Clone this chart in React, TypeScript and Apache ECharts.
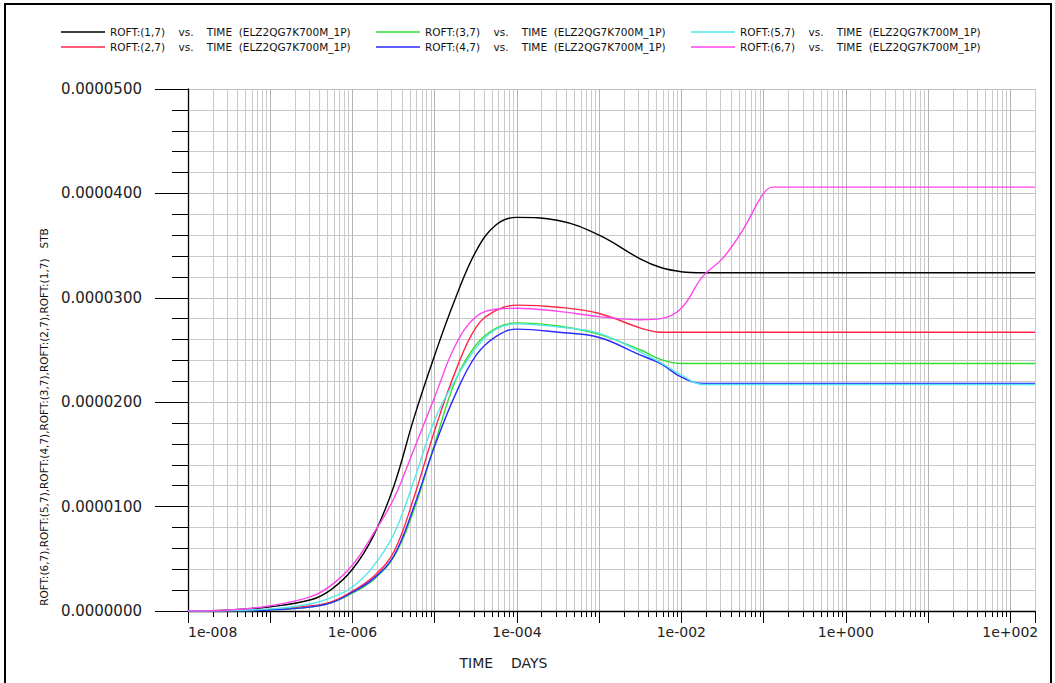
import { useEffect, useRef } from 'react';
import * as echarts from 'echarts';

// ---- data ----
const timeDays = [
  1e-8, 3.2e-8, 1e-7, 3.2e-7, 5.6e-7, 1e-6, 1.8e-6, 3.2e-6, 5.6e-6, 1e-5,
  1.8e-5, 3.2e-5, 5.6e-5, 1e-4, 3.2e-4, 1e-3, 3.2e-3, 5.6e-3, 1e-2, 1.8e-2,
  3.2e-2, 5.6e-2, 0.1, 0.13, 0.32, 1, 10, 100, 200,
];

const roft17 = [
  0, 0.01e-5, 0.04e-5, 0.11e-5, 0.21e-5, 0.40e-5, 0.72e-5, 1.20e-5, 1.85e-5, 2.45e-5,
  3.00e-5, 3.45e-5, 3.70e-5, 3.77e-5, 3.74e-5, 3.60e-5, 3.37e-5, 3.29e-5, 3.25e-5, 3.24e-5,
  3.24e-5, 3.24e-5, 3.24e-5, 3.24e-5, 3.24e-5, 3.24e-5, 3.24e-5, 3.24e-5, 3.24e-5,
];
const roft27 = [
  0, 0.003e-5, 0.015e-5, 0.05e-5, 0.09e-5, 0.19e-5, 0.33e-5, 0.57e-5, 1.09e-5, 1.73e-5,
  2.30e-5, 2.72e-5, 2.88e-5, 2.93e-5, 2.91e-5, 2.85e-5, 2.71e-5, 2.67e-5, 2.67e-5, 2.67e-5,
  2.67e-5, 2.67e-5, 2.67e-5, 2.67e-5, 2.67e-5, 2.67e-5, 2.67e-5, 2.67e-5, 2.67e-5,
];
const roft37 = [
  0, 0.002e-5, 0.01e-5, 0.04e-5, 0.08e-5, 0.17e-5, 0.30e-5, 0.52e-5, 0.97e-5, 1.60e-5,
  2.21e-5, 2.55e-5, 2.71e-5, 2.76e-5, 2.73e-5, 2.65e-5, 2.50e-5, 2.41e-5, 2.37e-5, 2.37e-5,
  2.37e-5, 2.37e-5, 2.37e-5, 2.37e-5, 2.37e-5, 2.37e-5, 2.37e-5, 2.37e-5, 2.37e-5,
];
const roft47 = [
  0, 0.002e-5, 0.01e-5, 0.04e-5, 0.08e-5, 0.18e-5, 0.31e-5, 0.53e-5, 1.00e-5, 1.58e-5,
  2.08e-5, 2.45e-5, 2.63e-5, 2.70e-5, 2.67e-5, 2.62e-5, 2.45e-5, 2.37e-5, 2.24e-5, 2.18e-5,
  2.18e-5, 2.18e-5, 2.18e-5, 2.18e-5, 2.18e-5, 2.18e-5, 2.18e-5, 2.18e-5, 2.18e-5,
];
const roft57 = [
  0, 0.005e-5, 0.02e-5, 0.07e-5, 0.13e-5, 0.23e-5, 0.43e-5, 0.74e-5, 1.25e-5, 1.83e-5,
  2.22e-5, 2.52e-5, 2.70e-5, 2.75e-5, 2.72e-5, 2.66e-5, 2.48e-5, 2.38e-5, 2.26e-5, 2.17e-5,
  2.17e-5, 2.17e-5, 2.17e-5, 2.17e-5, 2.17e-5, 2.17e-5, 2.17e-5, 2.17e-5, 2.17e-5,
];
const roft67 = [
  0, 0.01e-5, 0.05e-5, 0.14e-5, 0.25e-5, 0.44e-5, 0.74e-5, 1.08e-5, 1.55e-5, 2.05e-5,
  2.55e-5, 2.82e-5, 2.89e-5, 2.90e-5, 2.87e-5, 2.82e-5, 2.79e-5, 2.80e-5, 2.90e-5, 3.20e-5,
  3.38e-5, 3.65e-5, 4.00e-5, 4.06e-5, 4.06e-5, 4.06e-5, 4.06e-5, 4.06e-5, 4.06e-5,
];

const seriesNames = [
  'ROFT:(1,7) vs. TIME (ELZ2QG7K700M_1P)',
  'ROFT:(2,7) vs. TIME (ELZ2QG7K700M_1P)',
  'ROFT:(3,7) vs. TIME (ELZ2QG7K700M_1P)',
  'ROFT:(4,7) vs. TIME (ELZ2QG7K700M_1P)',
  'ROFT:(5,7) vs. TIME (ELZ2QG7K700M_1P)',
  'ROFT:(6,7) vs. TIME (ELZ2QG7K700M_1P)',
];
const seriesValues = [roft17, roft27, roft37, roft47, roft57, roft67];
const seriesColors = ['#000000', '#ff2448', '#33dd33', '#2a2aff', '#55e6ee', '#ff44ee'];

const xTickExponents = [-8, -6, -4, -2, 0, 2];
const xTickLabels = ['1e-008', '1e-006', '1e-004', '1e-002', '1e+000', '1e+002'];
const X_MIN_DAYS = 1e-8;
const X_MAX_DAYS = 200;
const Y_MIN = 0;
const Y_MAX = 5e-5;
const Y_STEP = 1e-5;

const xTitle = 'TIME    DAYS';
const yTitle = 'ROFT:(6,7),ROFT:(5,7),ROFT:(4,7),ROFT:(3,7),ROFT:(2,7),ROFT:(1,7)   STB';

const FONT = 'DejaVu Sans';

export default function App() {
  const ref = useRef<HTMLDivElement>(null);

  useEffect(() => {
    if (!ref.current) return;
    const chart = echarts.init(ref.current, undefined, { renderer: 'svg' });

    const xMinLog = Math.log10(X_MIN_DAYS);
    const xMaxLog = Math.log10(X_MAX_DAYS);
    // log-cycle minor positions (2..9 in each decade), in log10 space
    const minorLogs: number[] = [];
    for (let e = Math.round(xMinLog); e <= Math.ceil(xMaxLog); e++) {
      for (let k = 2; k <= 9; k++) {
        const v = Math.log10(k) + e;
        if (v > xMinLog && v <= xMaxLog + 1e-9) minorLogs.push(v);
      }
    }

    const fmtLegend = (name: string) =>
      name.replace(' vs. ', '    vs.    ').replace('TIME (', 'TIME  (');

    const legendGroups = [
      [seriesNames[0], seriesNames[1]],
      [seriesNames[2], seriesNames[3]],
      [seriesNames[4], seriesNames[5]],
    ];
    const legendLefts = [56, 371, 686];

    const option: any = {
      animation: false,
      backgroundColor: '#ffffff',
      textStyle: { fontFamily: FONT },
      grid: { left: 188, top: 89, width: 847, height: 522, containLabel: false },
      legend: legendGroups.map((names, i) => ({
        orient: 'vertical',
        left: legendLefts[i],
        top: 21,
        itemWidth: 44,
        itemHeight: 1.5,
        itemGap: 3,
        icon: 'rect',
        selectedMode: false,
        data: names,
        formatter: fmtLegend,
        textStyle: { fontSize: 10.5, color: '#111', lineHeight: 12, fontFamily: FONT },
      })),
      xAxis: [
        {
          type: 'log',
          logBase: 10,
          min: X_MIN_DAYS,
          max: X_MAX_DAYS,
          interval: 1,
          position: 'bottom',
          axisLine: { show: true, onZero: false, lineStyle: { color: '#000', width: 1.3 } },
          axisTick: { show: true, length: 12, lineStyle: { color: '#000', width: 1 } },
          axisLabel: {
            margin: 14,
            fontSize: 14,
            color: '#222',
            fontFamily: FONT,
            alignMinLabel: 'left',
            formatter: (v: number) => {
              const e = Math.round(Math.log10(v));
              if (Math.abs(Math.log10(v) - e) > 0.01) return '';
              const idx = xTickExponents.indexOf(e);
              return idx >= 0 ? xTickLabels[idx] : '';
            },
          },
          splitLine: { show: true, lineStyle: { color: '#b4b4b4', width: 1 } },
          name: xTitle,
          nameLocation: 'middle',
          nameGap: 45,
          nameTextStyle: { fontSize: 14, color: '#222', fontFamily: FONT, padding: [0, 216, 0, 0] },
        },
        {
          type: 'value',
          min: xMinLog,
          max: xMaxLog,
          position: 'bottom',
          offset: 0,
          axisLine: { show: false, onZero: false },
          axisLabel: { show: false },
          axisTick: { show: true, customValues: minorLogs, length: 6, lineStyle: { color: '#000', width: 1 } },
          splitLine: { show: true, lineStyle: { color: '#cacaca', width: 1 } },
        },
      ],
      yAxis: {
        type: 'value',
        min: Y_MIN,
        max: Y_MAX,
        interval: Y_STEP,
        position: 'left',
        axisLine: { show: true, onZero: false, lineStyle: { color: '#000', width: 1.3 } },
        axisTick: { show: true, length: 33, lineStyle: { color: '#000', width: 1 } },
        minorTick: { show: true, splitNumber: 5, length: 16, lineStyle: { color: '#000', width: 1 } },
        axisLabel: {
          margin: 46,
          fontSize: 15,
          color: '#222',
          fontFamily: FONT,
          formatter: (v: number) => v.toFixed(7),
        },
        splitLine: { show: true, lineStyle: { color: '#c0c0c0', width: 1 } },
        minorSplitLine: { show: true, lineStyle: { color: '#c8c8c8', width: 1 } },
        name: yTitle,
        nameLocation: 'middle',
        nameGap: 138,
        nameTextStyle: { fontSize: 10.5, color: '#111', fontFamily: FONT, padding: [0, 134, 0, 0] },
      },
      series: seriesNames.map((name, i) => ({
        type: 'line',
        name,
        xAxisIndex: 0,
        yAxisIndex: 0,
        data: timeDays.map((t, j) => [t, seriesValues[i][j]]),
        symbol: 'none',
        showSymbol: false,
        smooth: 0.4,
        color: seriesColors[i],
        lineStyle: { color: seriesColors[i], width: 1.4 },
        itemStyle: { color: seriesColors[i] },
      })),
      graphic: [
        {
          type: 'rect',
          silent: true,
          z: 100,
          shape: { x: 5, y: 4, width: 1046, height: 700 },
          style: { fill: 'none', stroke: '#000', lineWidth: 2 },
        },
      ],
    };

    chart.setOption(option);
    return () => chart.dispose();
  }, []);

  return (
    <div
      ref={ref}
      style={{ position: 'fixed', left: 0, top: 0, width: 1055, height: 683, background: '#fff' }}
    />
  );
}
